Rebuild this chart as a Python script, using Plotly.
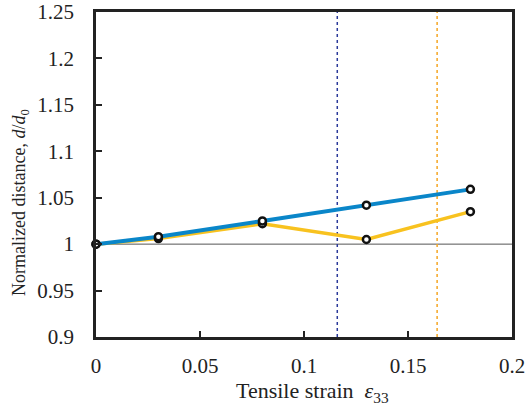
import plotly.graph_objects as go

# Tensile strain and normalized distances for the two series
strain = [0, 0.03, 0.08, 0.13, 0.18]
dist_blue = [1.0, 1.008, 1.025, 1.042, 1.059]
dist_yellow = [1.0, 1.006, 1.022, 1.005, 1.035]

# Vertical reference strains
ref_blue = 0.116
ref_orange = 0.164

x_ticks = [0, 0.05, 0.1, 0.15, 0.2]
x_tick_text = ["0", "0.05", "0.1", "0.15", "0.2"]
y_ticks = [0.9, 0.95, 1.0, 1.05, 1.1, 1.15, 1.2, 1.25]
y_tick_text = ["0.9", "0.95", "1", "1.05", "1.1", "1.15", "1.2", "1.25"]

BLUE = "#0a86c9"
YELLOW = "#f8c21f"
FONT = "Liberation Serif"

fig = go.Figure()

# baseline at d/d0 = 1
fig.add_trace(go.Scatter(x=[0, 0.2], y=[1, 1], mode="lines",
                         line=dict(color="#555555", width=1), hoverinfo="skip"))
# reference strains
fig.add_trace(go.Scatter(x=[ref_blue, ref_blue], y=[0.9, 1.25], mode="lines",
                         line=dict(color="#2b3a9a", width=1.5, dash="dot")))
fig.add_trace(go.Scatter(x=[ref_orange, ref_orange], y=[0.9, 1.25], mode="lines",
                         line=dict(color="#f5a623", width=1.5, dash="dot")))

fig.add_trace(go.Scatter(x=strain, y=dist_yellow, mode="lines",
                         line=dict(color=YELLOW, width=3.5)))
fig.add_trace(go.Scatter(x=strain, y=dist_blue, mode="lines",
                         line=dict(color=BLUE, width=4)))

marker = dict(symbol="circle", size=7, color="white",
              line=dict(color="#111111", width=2.5))
fig.add_trace(go.Scatter(x=strain, y=dist_yellow, mode="markers", marker=marker,
                         cliponaxis=False))
fig.add_trace(go.Scatter(x=strain, y=dist_blue, mode="markers", marker=marker,
                         cliponaxis=False))

axis_common = dict(
    showgrid=False, zeroline=False, showline=True, linecolor="#222222",
    linewidth=2.5, mirror=True, ticks="inside", ticklen=6, tickwidth=2,
    tickcolor="#222222", tickfont=dict(family=FONT, size=21, color="#222222"),
    automargin=False,
)

fig.update_layout(
    width=528, height=410,
    margin=dict(l=96, r=16, t=12, b=73),
    paper_bgcolor="white", plot_bgcolor="white",
    showlegend=False,
    font=dict(family=FONT, color="#222222"),
    xaxis=dict(range=[0, 0.2], tickvals=x_ticks, ticktext=x_tick_text,
               ticklabelstandoff=8, **axis_common),
    yaxis=dict(range=[0.9, 1.25], tickvals=y_ticks, ticktext=y_tick_text,
               ticklabelstandoff=15, **axis_common),
    annotations=[
        dict(text="Tensile strain  <i>ε</i><sub>33</sub>", xref="paper", yref="paper",
             x=0.52, y=-0.17, xanchor="center", yanchor="middle", showarrow=False,
             font=dict(family=FONT, size=22, color="#222222")),
        dict(text="Normalized distance, <i>d</i>/<i>d</i><sub>0</sub>",
             xref="paper", yref="paper", x=-0.183, y=0.415, textangle=-90,
             xanchor="center", yanchor="middle", showarrow=False,
             font=dict(family=FONT, size=18, color="#222222")),
    ],
)

fig.write_html("out.html")
